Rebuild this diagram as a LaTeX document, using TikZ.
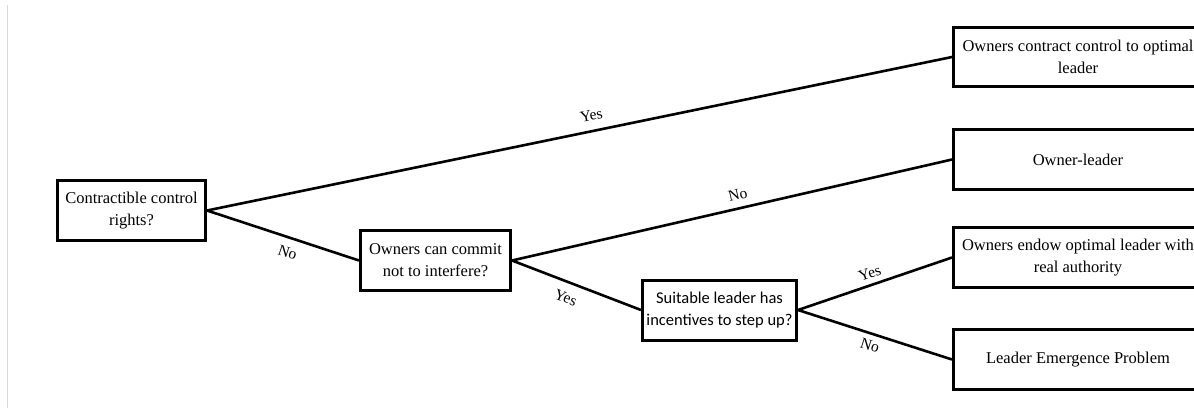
\documentclass[tikz,border=0pt]{standalone}
\usepackage{fontspec}
\setmainfont{Liberation Serif}
\newfontfamily\carlito{Carlito}
\usepackage{tikz}
\usetikzlibrary{positioning}

\begin{document}
\begin{tikzpicture}[x=1pt, y=-1pt,
        box/.style={draw, line width=3pt, align=center, inner sep=2pt,
            font=\fontsize{16.5}{22}\selectfont},
        question/.style={box, minimum width=150pt, minimum height=60pt},
        outcome/.style={box, minimum width=249pt, minimum height=59.5pt},
        branch/.style={line width=2.6pt},
        answer/.style={sloped, inner sep=3pt, font=\fontsize{15.5}{18}\selectfont}]
        \clip (0, 0) rectangle (1194, 408);
        \fill[white] (0, 0) rectangle (1194, 408);
        \draw[black!15, line width=1pt] (7, 5) -- (7, 408);

        \node[question, minimum width=148pt] (rights) at (131.5, 210.5) {Contractible control\\rights?};
        \node[question] (commit) at (435.5, 260.5) {Owners can commit\\not to interfere?};
        \node[question, minimum width=154pt, font=\carlito\fontsize{16.5}{22}\selectfont] (stepup) at (719.5, 310) {Suitable leader has\\incentives to step up?};

        \node[outcome] (contract) at (1078, 57) {Owners contract control to optimal\\leader};
        \node[outcome] (ownerleader) at (1078, 159.5) {Owner-leader};
        \node[outcome] (endow) at (1078, 257.5) {Owners endow optimal leader with\\real authority};
        \node[outcome] (emergence) at (1078, 359.5) {Leader Emergence Problem};

        \draw[branch] (rights.east) -- node[answer, above=6pt, pos=0.52] {Yes} (contract.west);
        \draw[branch] (rights.east) -- node[answer, below=5pt, pos=0.56] {No} (commit.west);
        \draw[branch] (commit.east) -- node[answer, above=4pt, pos=0.52] {No} (ownerleader.west);
        \draw[branch] (commit.east) -- node[answer, below=6pt, pos=0.46] {Yes} (stepup.west);
        \draw[branch] (stepup.east) -- node[answer, above=2pt, pos=0.49] {Yes} (endow.west);
        \draw[branch] (stepup.east) -- node[answer, below=2pt, pos=0.49] {No} (emergence.west);
\end{tikzpicture}
\end{document}
